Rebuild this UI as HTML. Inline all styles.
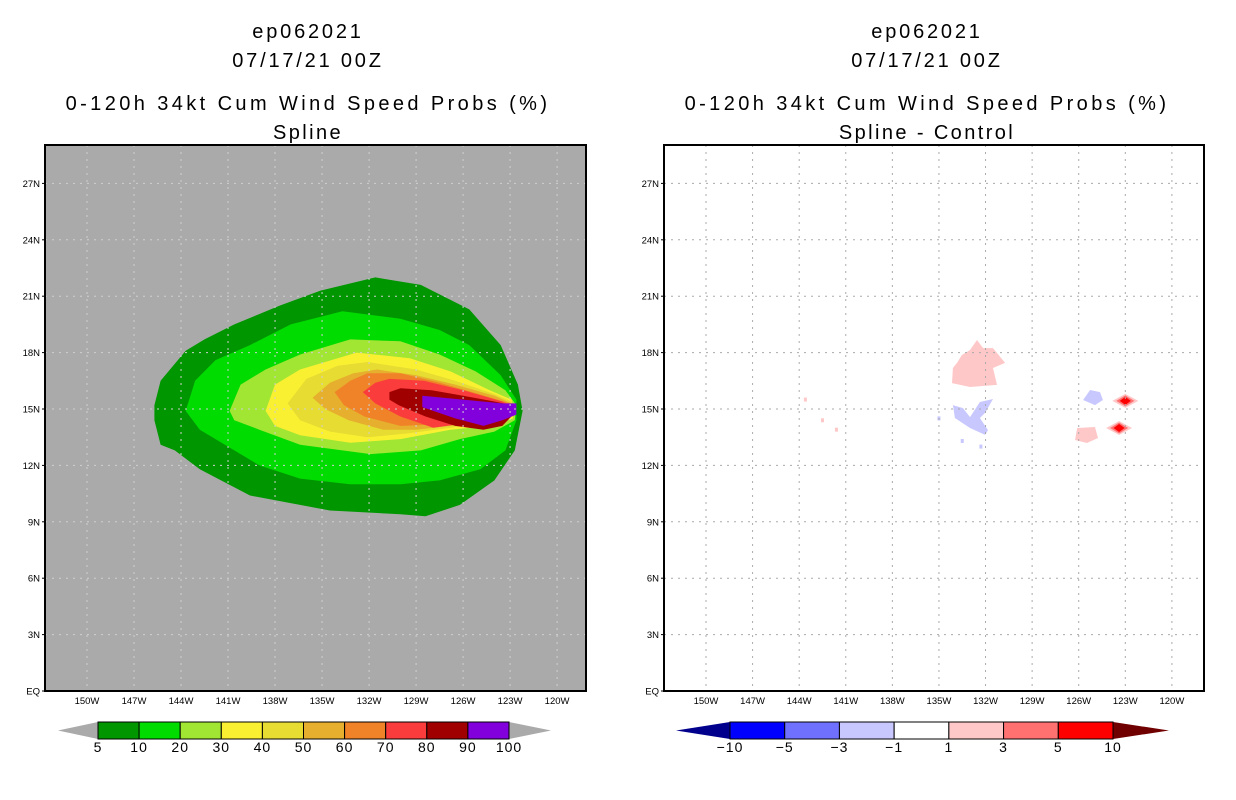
<!DOCTYPE html>
<html><head><meta charset="utf-8"><style>
html,body{margin:0;padding:0;background:#fff;}
svg{display:block;font-family:"Liberation Sans",sans-serif;}
</style></head><body>
<svg id="chart" width="1236" height="800" viewBox="0 0 1236 800" xmlns="http://www.w3.org/2000/svg"></svg>
<script>
// ---------- data ----------
const lonTicks = [-150,-147,-144,-141,-138,-135,-132,-129,-126,-123,-120];
const latTicks = [0,3,6,9,12,15,18,21,24,27];
const latLabels = ["EQ","3N","6N","9N","12N","15N","18N","21N","24N","27N"];
const probLevels = [5,10,20,30,40,50,60,70,80,90,100];
const probColors = ["#009600","#00dc00","#a0e632","#faf032","#e6dc32","#e6af2d","#f08228","#fa3c3c","#a00000","#8200dc"];
const p5  = [[-145.7,15.2],[-145.3,16.5],[-143.7,18.1],[-142.5,18.7],[-140.6,19.5],[-137.7,20.5],[-135.1,21.3],[-131.6,22.0],[-128.7,21.6],[-125.6,20.3],[-123.6,18.4],[-122.5,16.3],[-122.2,14.9],[-122.7,12.8],[-124.0,11.2],[-126.2,9.9],[-128.4,9.3],[-130.0,9.4],[-134.5,9.6],[-139.6,10.4],[-142.8,11.8],[-144.4,12.8],[-145.3,13.1],[-145.7,14.4]];
const p10 = [[-143.7,14.9],[-143.1,16.5],[-141.8,17.6],[-139.6,18.4],[-137.0,19.5],[-133.7,20.2],[-130.0,19.8],[-127.5,19.2],[-125.6,18.4],[-123.6,16.8],[-122.6,15.5],[-122.6,14.4],[-123.3,12.8],[-124.9,11.8],[-127.5,11.2],[-130.0,11.0],[-133.2,11.0],[-136.4,11.3],[-139.0,12.0],[-141.2,13.1],[-142.8,13.9]];
const p20 = [[-140.9,14.9],[-140.2,16.3],[-138.6,17.1],[-136.4,17.9],[-133.2,18.7],[-130.0,18.6],[-127.5,17.9],[-125.2,17.0],[-123.3,16.0],[-122.6,15.2],[-122.7,14.4],[-124.0,13.8],[-126.2,13.4],[-128.7,12.8],[-131.9,12.6],[-136.4,13.1],[-139.0,13.9],[-140.6,14.4]];
const p30 = [[-138.6,14.9],[-138.0,16.3],[-136.4,17.1],[-132.8,18.0],[-129.4,17.7],[-126.8,17.0],[-124.3,16.0],[-122.9,15.5],[-122.8,14.5],[-124.3,14.1],[-126.8,13.9],[-130.0,13.4],[-133.2,13.2],[-136.4,13.6],[-138.0,14.1]];
const p40 = [[-137.2,15.3],[-136.0,16.6],[-134.0,17.3],[-132.1,17.5],[-129.0,17.1],[-126.5,16.5],[-124.0,15.8],[-122.9,15.4],[-122.8,14.6],[-124.3,14.3],[-126.8,14.0],[-129.5,13.7],[-132.1,13.5],[-134.5,13.8],[-136.4,14.4]];
const p50 = [[-135.6,15.6],[-134.5,16.4],[-133.0,16.9],[-131.5,17.1],[-129.0,16.8],[-126.5,16.3],[-124.0,15.7],[-122.9,15.3],[-122.8,14.7],[-124.3,14.4],[-126.8,14.1],[-129.0,13.9],[-131.1,13.9],[-133.3,14.4],[-134.8,15.0]];
const p60 = [[-134.2,15.9],[-133.2,16.5],[-132.1,16.9],[-130.0,16.9],[-127.5,16.4],[-125.0,15.8],[-123.0,15.3],[-122.8,14.7],[-124.3,14.4],[-127.0,14.2],[-130.0,14.1],[-132.3,14.6],[-133.6,15.2]];
const p70 = [[-132.4,15.9],[-131.6,16.4],[-130.7,16.6],[-128.5,16.5],[-126.0,16.0],[-123.5,15.4],[-122.8,15.1],[-122.8,14.7],[-124.5,14.4],[-127.9,14.0],[-130.0,14.6],[-131.6,15.3]];
const p80 = [[-130.7,15.9],[-130.0,16.1],[-128.0,16.0],[-126.0,15.7],[-124.0,15.4],[-122.9,15.2],[-122.8,14.7],[-123.5,14.1],[-124.7,13.9],[-126.5,14.1],[-128.4,14.6],[-130.1,15.2],[-130.7,15.5]];
const p90 = [[-128.6,15.7],[-126.0,15.5],[-123.5,15.3],[-122.6,15.3],[-122.6,14.7],[-123.5,14.4],[-124.7,14.1],[-126.5,14.5],[-128.6,15.1]];
const probContours = [p5,p10,p20,p30,p40,p50,p60,p70,p80,p90];

const diffLevels = ["−10","−5","−3","−1","1","3","5","10"];
const diffColors = ["#0000ff","#7070ff","#c8c8ff","#ffffff","#ffc8c8","#ff7070","#ff0000"];
const diffLowTri = "#00008c", diffHighTri = "#700000";
const dPink1 = [[-132.55,18.67],[-132.16,18.24],[-131.52,18.24],[-130.74,17.45],[-131.52,17.18],[-131.26,16.28],[-133.0,16.17],[-134.16,16.38],[-134.1,17.18],[-133.84,17.45],[-133.52,17.87],[-133.0,18.14]];
const dBlue1 = [[-134.1,15.21],[-133.45,15.05],[-133.0,14.57],[-132.36,15.37],[-131.52,15.53],[-132.03,14.79],[-132.36,14.52],[-131.84,13.88],[-132.03,13.62],[-133.0,13.99],[-133.97,14.52]];
const dBlue2 = [[-125.72,15.48],[-125.27,16.01],[-124.63,15.9],[-124.44,15.48],[-124.95,15.21]];
const dPink2 = [[-126.1,13.99],[-124.95,14.04],[-124.76,13.46],[-125.47,13.19],[-126.24,13.35]];
const diffAreas = [{pts:dPink1,c:"#ffc8c8"},{pts:dBlue1,c:"#c8c8ff"},{pts:dBlue2,c:"#c8c8ff"},{pts:dPink2,c:"#ffc8c8"}];
const diffPeaks = [[-123.0,15.43],[-123.4,13.99]];
const diffSpecks = [[-143.6,15.5,"#ffc8c8"],[-142.5,14.4,"#ffc8c8"],[-141.6,13.9,"#ffc8c8"],[-135.0,14.5,"#c8c8ff"],[-133.5,13.3,"#c8c8ff"],[-132.3,13.0,"#c8c8ff"]];

// ---------- drawing ----------
const NS="http://www.w3.org/2000/svg";
const svg=document.getElementById('chart');
function mk(tag,attrs,parent){const e=document.createElementNS(NS,tag);for(const k in attrs)e.setAttribute(k,attrs[k]);(parent||svg).appendChild(e);return e;}
function txt(s,x,y,size,anchor,parent,ls){const t=mk('text',{x:x,y:y,'font-size':size,'text-anchor':anchor||'middle',fill:'#000'},parent);if(ls)t.setAttribute('letter-spacing',ls);t.textContent=s;return t;}

const latScale = lat => 691 - lat*18.8;
function panel(left,right,lonAt150,pxPerDeg,bg,name){
  const g=mk('g',{});
  
  
  const xs = lon => lonAt150 + (lon+150)*pxPerDeg;
  mk('rect',{x:left,y:145,width:right-left,height:546,fill:bg},g);
  return {g,xs};
}
function poly(pts,xs,fill,parent,name){
  const d=pts.map(p=>xs(p[0]).toFixed(1)+','+latScale(p[1]).toFixed(1)).join(' ');
  const e=mk('polygon',{points:d,fill:fill},parent);
  
  
  return e;
}
function gridAxes(P,left,right,gridColor,ylabX){
  const gg=mk('g',{},P.g);
  
  
  lonTicks.forEach(l=>{const x=P.xs(l);if(x>left&&x<right)mk('line',{x1:x,x2:x,y1:145,y2:691,stroke:gridColor,'stroke-width':1,'stroke-dasharray':'2,5'},gg);});
  latTicks.forEach(l=>{const y=latScale(l);if(y>145&&y<691)mk('line',{x1:left,x2:right,y1:y,y2:y,stroke:gridColor,'stroke-width':1,'stroke-dasharray':'2,5'},gg);});
  const f=mk('rect',{x:left,y:145,width:right-left,height:546,fill:'none',stroke:'#000','stroke-width':2},P.g);
  
  
  const xl=mk('g',{},P.g);
  
  
  lonTicks.forEach(l=>{txt((-l)+'W',P.xs(l),704,9.5,'middle',xl);});
  const yl=mk('g',{},P.g);
  
  
  latTicks.forEach((l,i)=>{const y=latScale(l);txt(latLabels[i],ylabX,y+3.5,9.5,'end',yl);mk('line',{x1:left-3,x2:left,y1:y,y2:y,stroke:'#000'},yl);});
}

// Left panel
const L=panel(45,586,87,15.67,'#aaaaaa','left-panel-spline');
probContours.forEach((c,i)=>poly(c,L.xs,probColors[i],L.g,'contour-'+probLevels[i]+'pct'));
gridAxes(L,45,586,'#d0d0d0',40);
// Right panel
const R=panel(664,1204,706,15.53,'#ffffff','right-panel-difference');
diffAreas.forEach((a,i)=>poly(a.pts,R.xs,a.c,R.g,'diff-area-'+i));
diffSpecks.forEach(s=>{const e=mk('rect',{x:R.xs(s[0])-1.5,y:latScale(s[1])-2,width:3,height:4,fill:s[2]},R.g);
  
  });
diffPeaks.forEach(p=>{const cx=R.xs(p[0]),cy=latScale(p[1]);
  [[13,7,'#ffc8c8'],[9,5.5,'#ff7070'],[5.5,4,'#ff0000']].forEach(r=>{
    const e=mk('polygon',{points:`${cx-r[0]},${cy} ${cx},${cy-r[1]} ${cx+r[0]},${cy} ${cx},${cy+r[1]}`,fill:r[2]},R.g);
    
    });});
gridAxes(R,664,1204,'#aaaaaa',659);

// Titles
function titles(cx,sub,name){const g=mk('g',{});
  
  
  txt('ep062021',cx,38,20,'middle',g,'2.8');
  txt('07/17/21 00Z',cx,67,20,'middle',g,'2.8');
  txt('0-120h 34kt Cum Wind Speed Probs (%)',cx,110,20,'middle',g,'3.4');
  txt(sub,cx,139,20,'middle',g,'2.4');}
titles(308,'Spline','left-title');
titles(927,'Spline - Control','right-title');

// Colorbars
function colorbar(x0,x1,tipL,tipR,colors,labels,lowTri,highTri,name){
  const g=mk('g',{});
  
  
  const y0=722,y1=739,ym=(y0+y1)/2;
  mk('polygon',{points:`${tipL},${ym} ${x0},${y0} ${x0},${y1}`,fill:lowTri},g);
  mk('polygon',{points:`${tipR},${ym} ${x1},${y0} ${x1},${y1}`,fill:highTri},g);
  const w=(x1-x0)/colors.length;
  colors.forEach((c,i)=>mk('rect',{x:x0+i*w,y:y0,width:w,height:y1-y0,fill:c,stroke:'#000','stroke-width':1},g));
  labels.forEach((s,i)=>txt(s,x0+i*w,752,14,'middle',g,'1'));
}
colorbar(98,509,58,551,probColors,probLevels.map(String),'#aaaaaa','#aaaaaa','probability-colorbar');
colorbar(730,1113,676,1169,diffColors,diffLevels,diffLowTri,diffHighTri,'difference-colorbar');
</script>
</body></html>
